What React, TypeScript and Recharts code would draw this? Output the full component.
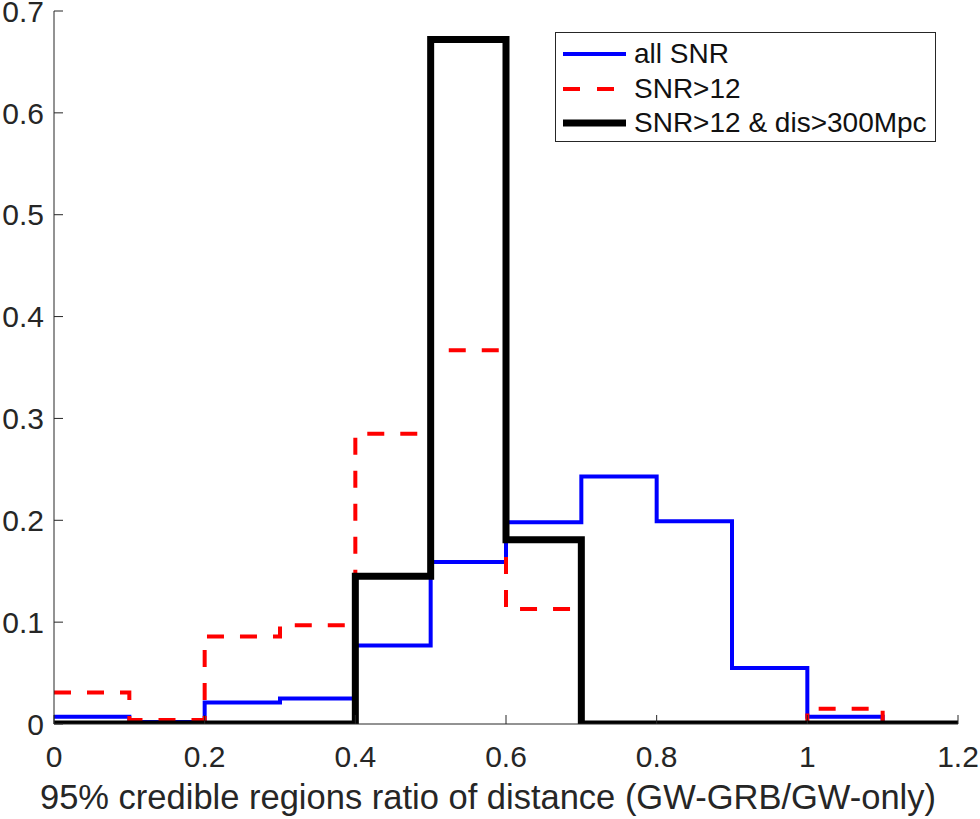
import React from 'react';
import { LineChart, Line, XAxis, YAxis, Legend, Label } from 'recharts';

const binEdges = [0, 0.1, 0.2, 0.3, 0.4, 0.5, 0.6, 0.7, 0.8, 0.9, 1.0, 1.1, 1.2];
const allSNR = [0.007, 0.002, 0.021, 0.025, 0.077, 0.159, 0.198, 0.243, 0.199, 0.055, 0.007, 0];
const snr12 = [0.031, 0.004, 0.086, 0.097, 0.285, 0.367, 0.113, 0, 0, 0, 0.015, 0];
const snr12dis = [0, 0, 0, 0, 0.145, 0.672, 0.181, 0, 0, 0, 0, 0];
const xTicks = [0, 0.2, 0.4, 0.6, 0.8, 1.0, 1.2];
const yTicks = [0, 0.1, 0.2, 0.3, 0.4, 0.5, 0.6, 0.7];
const seriesNames = ['all SNR', 'SNR>12', 'SNR>12 & dis>300Mpc'];
const xLabel = '95% credible regions ratio of distance (GW-GRB/GW-only)';

const data = binEdges.map((x, i) => {
  const k = Math.min(i, allSNR.length - 1);
  return { x, all: allSNR[k], snr12: snr12[k], dis: snr12dis[k] };
});

const FONT = '"Liberation Sans", Arial, Helvetica, sans-serif';
const AX = '#262626';
const fmt = (v: number) => String(Math.round(v * 10) / 10);

const legendItems = [
  { name: seriesNames[0], color: '#0000ff', width: 4, dash: undefined as string | undefined },
  { name: seriesNames[1], color: '#ff0000', width: 4, dash: '17 17' },
  { name: seriesNames[2], color: '#000000', width: 7, dash: undefined as string | undefined },
];

const LegendBox = () => (
  <div
    style={{
      position: 'relative',
      width: 381,
      height: 110,
      border: `1px solid ${AX}`,
      background: '#fff',
      boxSizing: 'border-box',
      fontFamily: FONT,
      fontSize: 28,
      color: '#111',
    }}
  >
    {legendItems.map((it, i) => (
      <div
        key={it.name}
        style={{
          position: 'absolute',
          left: 0,
          top: 21 + i * 34.5 - 17,
          height: 34,
          display: 'flex',
          alignItems: 'center',
          whiteSpace: 'nowrap',
        }}
      >
        <svg width={78} height={34} style={{ display: 'block' }}>
          <line x1={7} x2={70} y1={17} y2={17} stroke={it.color} strokeWidth={it.width} strokeDasharray={it.dash} />
        </svg>
        <span style={{ lineHeight: '34px' }}>{it.name}</span>
      </div>
    ))}
  </div>
);

export default function App() {
  return (
    <div style={{ position: 'absolute', left: 0, top: 0, width: 980, height: 819, background: '#fff' }}>
      <LineChart width={980} height={819} data={data} margin={{ top: 11, right: 22, bottom: 0, left: 4 }}>
        <XAxis
          xAxisId="bottom"
          dataKey="x"
          type="number"
          domain={[0, 1.2]}
          ticks={xTicks}
          tickFormatter={fmt}
          allowDataOverflow
          height={95}
          tickSize={-9}
          tickMargin={31}
          stroke={AX}
          tick={{ fill: AX, fontSize: 30, fontFamily: FONT }}
          interval={0}
        >
          <Label value={xLabel} position="insideBottom" offset={10} dx={-18} fill={AX} fontSize={34.5} fontFamily={FONT} />
        </XAxis>
        <XAxis
          xAxisId="top"
          orientation="top"
          dataKey="x"
          type="number"
          domain={[0, 1.2]}
          ticks={xTicks}
          allowDataOverflow
          height={0}
          tickSize={-9}
          tick={false}
          stroke={AX}
          interval={0}
        />
        <YAxis
          yAxisId="left"
          type="number"
          domain={[0, 0.7]}
          ticks={yTicks}
          tickFormatter={fmt}
          allowDataOverflow
          width={50}
          tickSize={-9}
          tickMargin={19}
          stroke={AX}
          tick={{ fill: AX, fontSize: 30, fontFamily: FONT }}
          interval={0}
        />
        <YAxis
          yAxisId="right"
          orientation="right"
          type="number"
          domain={[0, 0.7]}
          ticks={yTicks}
          allowDataOverflow
          width={0}
          tickSize={-9}
          tick={false}
          stroke={AX}
          interval={0}
        />
        <Legend
          layout="vertical"
          align="center"
          verticalAlign="middle"
          content={() => <LegendBox />}
          wrapperStyle={{ position: 'absolute', left: 555, top: 32, width: 381, height: 110, bottom: 'auto', right: 'auto', margin: 0 }}
        />
        <Line
          xAxisId="bottom"
          yAxisId="left"
          type="stepAfter"
          dataKey="all"
          name={seriesNames[0]}
          stroke="#0000ff"
          strokeWidth={4}
          dot={false}
          isAnimationActive={false}
        />
        <Line
          xAxisId="bottom"
          yAxisId="left"
          type="stepAfter"
          dataKey="snr12"
          name={seriesNames[1]}
          stroke="#ff0000"
          strokeWidth={4}
          strokeDasharray="17 16"
          dot={false}
          isAnimationActive={false}
        />
        <Line
          xAxisId="bottom"
          yAxisId="left"
          type="stepAfter"
          dataKey="dis"
          name={seriesNames[2]}
          stroke="#000000"
          strokeWidth={7}
          dot={false}
          isAnimationActive={false}
        />
      </LineChart>
    </div>
  );
}
